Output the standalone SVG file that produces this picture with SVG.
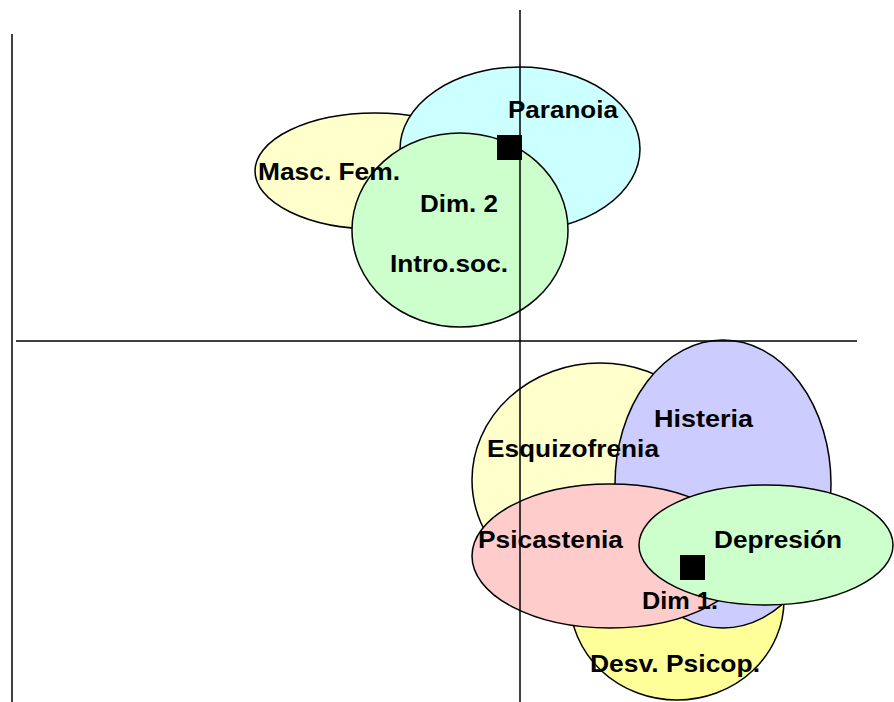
<svg xmlns="http://www.w3.org/2000/svg" width="894" height="702" viewBox="0 0 894 702">
<style>
.e{stroke:#000;stroke-width:1.5}
.ax{stroke:#000;stroke-width:1.5;fill:none}
.t{font-family:"Liberation Sans",Arial,sans-serif;font-weight:bold;font-size:24px;fill:#000}
.sq{fill:#000}
</style>
<rect width="894" height="702" fill="#fff"/>
<g id="masc-fem"><ellipse class="e" cx="375" cy="171" rx="120" ry="58" fill="#FFFFCC"/></g>
<g id="paranoia"><ellipse class="e" cx="520" cy="149" rx="120" ry="82" fill="#CCFFFF"/></g>
<g id="intro-soc"><ellipse class="e" cx="460" cy="230" rx="108" ry="97" fill="#CCFFCC"/></g>
<g id="desv-psicop"><ellipse class="e" cx="677" cy="600" rx="107" ry="100" fill="#FFFF99"/></g>
<g id="esquizofrenia"><ellipse class="e" cx="600" cy="480" rx="128" ry="117" fill="#FFFFCC"/></g>
<g id="histeria"><ellipse class="e" cx="723" cy="484" rx="108" ry="144" fill="#CCCCFF"/></g>
<g id="psicastenia"><ellipse class="e" cx="610" cy="556" rx="138" ry="72" fill="#FFCCCC"/></g>
<g id="depresion"><ellipse class="e" cx="766" cy="545" rx="127" ry="60" fill="#CCFFCC"/></g>
<g id="connectors">
<line class="ax" x1="12" y1="34" x2="12" y2="702"/>
<line class="ax" x1="16" y1="341" x2="857" y2="341"/>
<line class="ax" x1="520" y1="10" x2="520" y2="702"/>
</g>
<g id="dim2-point"><rect class="sq" x="497" y="135" width="25" height="25"/></g>
<g id="dim1-point"><rect class="sq" x="680" y="555" width="25" height="25"/></g>
<g id="labels">
<text class="t" x="508" y="118" textLength="110" lengthAdjust="spacingAndGlyphs">Paranoia</text>
<text class="t" x="258" y="180" textLength="142" lengthAdjust="spacingAndGlyphs">Masc. Fem.</text>
<text class="t" x="420" y="212" textLength="78" lengthAdjust="spacingAndGlyphs">Dim. 2</text>
<text class="t" x="390" y="272" textLength="118" lengthAdjust="spacingAndGlyphs">Intro.soc.</text>
<text class="t" x="654" y="427" textLength="99" lengthAdjust="spacingAndGlyphs">Histeria</text>
<text class="t" x="487" y="457" textLength="172" lengthAdjust="spacingAndGlyphs">Esquizofrenia</text>
<text class="t" x="478" y="548" textLength="145" lengthAdjust="spacingAndGlyphs">Psicastenia</text>
<text class="t" x="714" y="548" textLength="128" lengthAdjust="spacingAndGlyphs">Depresión</text>
<text class="t" x="642" y="609" textLength="76" lengthAdjust="spacingAndGlyphs">Dim 1.</text>
<text class="t" x="590" y="672" textLength="170" lengthAdjust="spacingAndGlyphs">Desv. Psicop.</text>
</g>
</svg>
